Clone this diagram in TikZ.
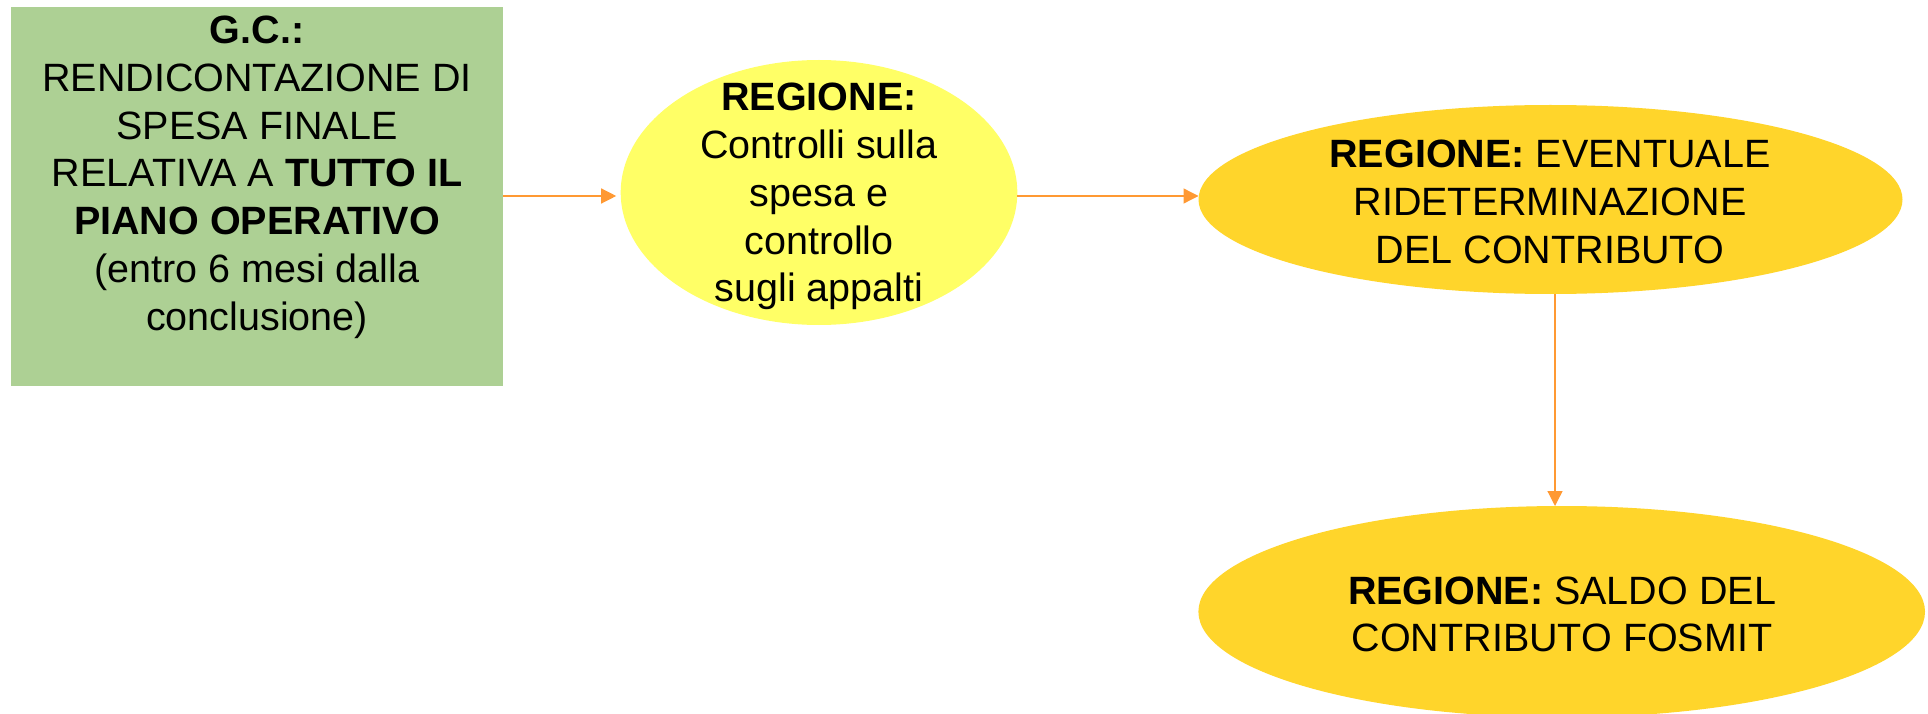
\documentclass[tikz,border=0pt]{standalone}
\usepackage{fontspec}
\setmainfont{Liberation Sans}
\usetikzlibrary{arrows.meta,shapes.geometric}
\definecolor{gcgreen}{RGB}{173,208,148}
\definecolor{lightyel}{RGB}{255,255,102}
\definecolor{goldfill}{RGB}{255,213,43}
\definecolor{arrorange}{RGB}{255,153,51}
\begin{document}
\begin{tikzpicture}[x=1pt,y=-1pt,
  shapebox/.style={inner sep=0pt, outer sep=0pt},
  greenbox/.style={shapebox, rectangle, fill=gcgreen, minimum width=492pt, minimum height=379pt},
  yellowell/.style={shapebox, ellipse, fill=lightyel},
  goldell/.style={shapebox, ellipse, fill=goldfill},
  txt/.style={inner sep=0pt, align=center, font=\fontsize{39.5}{47.7}\selectfont, anchor=base},
  arr/.style={draw=arrorange, line width=1.3pt, -{Triangle[length=15pt,width=15pt]}}]
\fill[white] (0,0) rectangle (1928,714);
\useasboundingbox (0,0) rectangle (1928,714);
\clip (0,0) rectangle (1928,714);
\coordinate (ay) at (0,196);
\coordinate (ax) at (1555,0);

\node[greenbox] (gc) at (257,196.5) {};
\node[txt] (gct) at (257,330) {\textbf{G.C.:}\\RENDICONTAZIONE DI\\SPESA FINALE\\RELATIVA A \textbf{TUTTO IL}\\\textbf{PIANO OPERATIVO}\\(entro 6 mesi dalla\\conclusione)};

\node[yellowell, minimum width=396.6pt, minimum height=265pt] (e1) at (819,192.5) {};
\node[txt] (e1t) at (819,301.7) {\textbf{REGIONE:}\\Controlli sulla\\spesa e\\controllo\\sugli appalti};

\node[goldell, minimum width=704pt, minimum height=189pt] (e2) at (1550.5,199.5) {};
\node[txt] (e2t) at (1550,263) {\textbf{REGIONE:} EVENTUALE\\RIDETERMINAZIONE\\DEL CONTRIBUTO};

\node[goldell, minimum width=726.6pt, minimum height=211.4pt] (e3) at (1561.7,611.7) {};
\node[txt] (e3t) at (1562,651.7) {\textbf{REGIONE:} SALDO DEL\\CONTRIBUTO FOSMIT};

\draw[arr, shorten >=4.5pt] (gc.east |- ay) -- (e1.west |- ay);
\draw[arr] (e1.east |- ay) -- (e2.west |- ay);
\draw[arr] (e2.south -| ax) -- (e3.north -| ax);
\end{tikzpicture}
\end{document}
